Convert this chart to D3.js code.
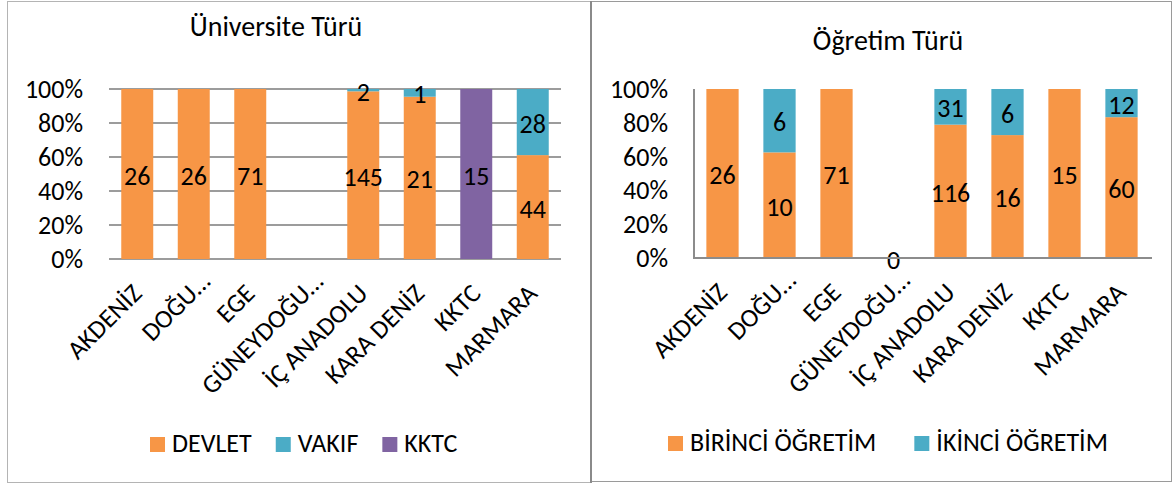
<!DOCTYPE html>
<html>
<head>
<meta charset="utf-8">
<script src="https://cdn.jsdelivr.net/npm/d3@7"></script>
<style>
  html, body { margin: 0; padding: 0; background: #ffffff; }
  svg { display: block; font-family: Carlito, Lato, "Liberation Sans", sans-serif; }
</style>
</head>
<body>
<svg id="chart" width="1174" height="484"></svg>
<script>
// Regions shown on both charts
const categories = ["AKDENİZ", "DOĞU…", "EGE", "GÜNEYDOĞU…", "İÇ ANADOLU", "KARA DENİZ", "KKTC", "MARMARA"];

// University type counts (empty cells are null)
const devlet = [26, 26, 71, null, 145, 21, null, 44];
const vakif  = [null, null, null, null, 2, 1, null, 28];
const kktc   = [null, null, null, null, null, null, 15, null];

// Education type counts
const birinci = [26, 10, 71, 0, 116, 16, 15, 60];
const ikinci  = [null, 6, null, null, 31, 6, null, 12];

// Percent axis ticks
const percentTicks = [0, 0.2, 0.4, 0.6, 0.8, 1];

const ORANGE = "#F79646", TEAL = "#4BACC6", PURPLE = "#8064A2";
const FONT = 26;
const svg = d3.select("#chart");

// Panel frames
svg.append("rect").attr("x", 7.5).attr("y", 1.5).attr("width", 583).attr("height", 481)
  .attr("fill", "none").attr("stroke", "#b4b4b4").attr("stroke-width", 1);
svg.append("rect").attr("x", 591.5).attr("y", 1.5).attr("width", 580).attr("height", 480)
  .attr("fill", "none").attr("stroke", "#9a9a9a").attr("stroke-width", 1);
svg.append("line").attr("x1", 591).attr("x2", 591).attr("y1", 1).attr("y2", 483)
  .attr("stroke", "#8a8a8a").attr("stroke-width", 2);

function drawPanel(cfg) {
  const g = svg.append("g");
  const x = d3.scaleBand().domain(categories).range(cfg.xRange).paddingInner(0.434).paddingOuter(0.217);
  const y = d3.scaleLinear().domain([0, 1]).range(cfg.yRange);

  // Title
  g.append("text").attr("x", cfg.titleX).attr("y", cfg.titleY)
    .attr("text-anchor", "middle").attr("font-size", 28).attr("fill", "#000")
    .text(cfg.title);

  // Gridlines
  if (cfg.grid) {
    g.append("g").selectAll("line").data(percentTicks).join("line")
      .attr("x1", cfg.xRange[0]).attr("x2", cfg.xRange[1])
      .attr("y1", d => y(d)).attr("y2", d => y(d))
      .attr("stroke", "#9c9c9c").attr("stroke-width", 2);
  }

  // Y axis labels
  const yAxis = d3.axisLeft(y).tickValues(percentTicks).tickFormat(d3.format(".0%"))
    .tickSize(0).tickPadding(26);
  const ya = g.append("g").attr("transform", `translate(${cfg.xRange[0]},0)`).call(yAxis);
  ya.select(".domain").remove();
  ya.selectAll("text").attr("font-size", FONT).attr("fill", "#000")
    .attr("font-family", "Carlito, Lato, sans-serif").attr("dy", "0.33em");

  // Stacked percent bars
  categories.forEach((cat, i) => {
    const vals = cfg.series.map(s => s.values[i]);
    const total = d3.sum(vals.map(v => v || 0));
    let acc = 0;
    cfg.series.forEach(s => {
      const v = s.values[i];
      if (v === null) return;
      const p0 = total > 0 ? acc / total : 0;
      const p1 = total > 0 ? (acc + v) / total : 0;
      acc += v;
      if (v > 0) {
        g.append("rect").attr("x", x(cat)).attr("width", x.bandwidth())
          .attr("y", y(p1)).attr("height", y(p0) - y(p1)).attr("fill", s.color);
      }
      g.append("text").attr("x", x(cat) + x.bandwidth() / 2)
        .attr("y", (y(p0) + y(p1)) / 2 + 10.5)
        .attr("text-anchor", "middle").attr("font-size", FONT).attr("fill", "#000")
        .text(v);
    });
  });

  // Axis lines
  if (cfg.axisLines) {
    g.append("line").attr("x1", cfg.xRange[0]).attr("x2", cfg.xRange[0])
      .attr("y1", cfg.yRange[1]).attr("y2", cfg.yRange[0] + 1)
      .attr("stroke", "#8c8c8c").attr("stroke-width", 2);
    g.append("line").attr("x1", cfg.xRange[0] - 1).attr("x2", cfg.xRange[1] + 2)
      .attr("y1", cfg.yRange[0]).attr("y2", cfg.yRange[0])
      .attr("stroke", "#8c8c8c").attr("stroke-width", 2);
  }

  // Category labels, rotated; truncated labels run a little further along their slant
  const xAxis = d3.axisBottom(x).tickSize(0).tickPadding(0);
  const xa = g.append("g").attr("transform", `translate(0,${cfg.yRange[0]})`).call(xAxis);
  xa.select(".domain").remove();
  xa.selectAll("text")
    .attr("font-size", FONT).attr("fill", "#000").attr("font-family", "Carlito, Lato, sans-serif")
    .attr("text-anchor", "end").attr("dy", null).attr("y", 0)
    .attr("transform", d => d.endsWith("…")
      ? "translate(18,24) rotate(-45)"
      : "translate(6,36) rotate(-45)");

  // Legend
  let lx = cfg.legendX;
  cfg.series.forEach(s => {
    const item = g.append("g");
    item.append("rect").attr("x", lx).attr("y", cfg.legendY - 15).attr("width", 15).attr("height", 15)
      .attr("fill", s.color);
    const t = item.append("text").attr("x", lx + 22).attr("y", cfg.legendY)
      .attr("font-size", FONT).attr("fill", "#000").text(s.name);
    lx += 22 + t.node().getComputedTextLength() + cfg.legendGap;
  });
}

drawPanel({
  title: "Üniversite Türü", titleX: 276, titleY: 36,
  xRange: [109, 561], yRange: [259, 89],
  grid: true, axisLines: false,
  series: [
    { name: "DEVLET", values: devlet, color: ORANGE },
    { name: "VAKIF", values: vakif, color: TEAL },
    { name: "KKTC", values: kktc, color: PURPLE }
  ],
  legendX: 150, legendY: 452, legendGap: 24
});

drawPanel({
  title: "Öğretim Türü", titleX: 888, titleY: 50,
  xRange: [694, 1150], yRange: [258, 89],
  grid: false, axisLines: true,
  series: [
    { name: "BİRİNCİ ÖĞRETİM", values: birinci, color: ORANGE },
    { name: "İKİNCİ ÖĞRETİM", values: ikinci, color: TEAL }
  ],
  legendX: 668, legendY: 451, legendGap: 38
});
</script>
</body>
</html>
